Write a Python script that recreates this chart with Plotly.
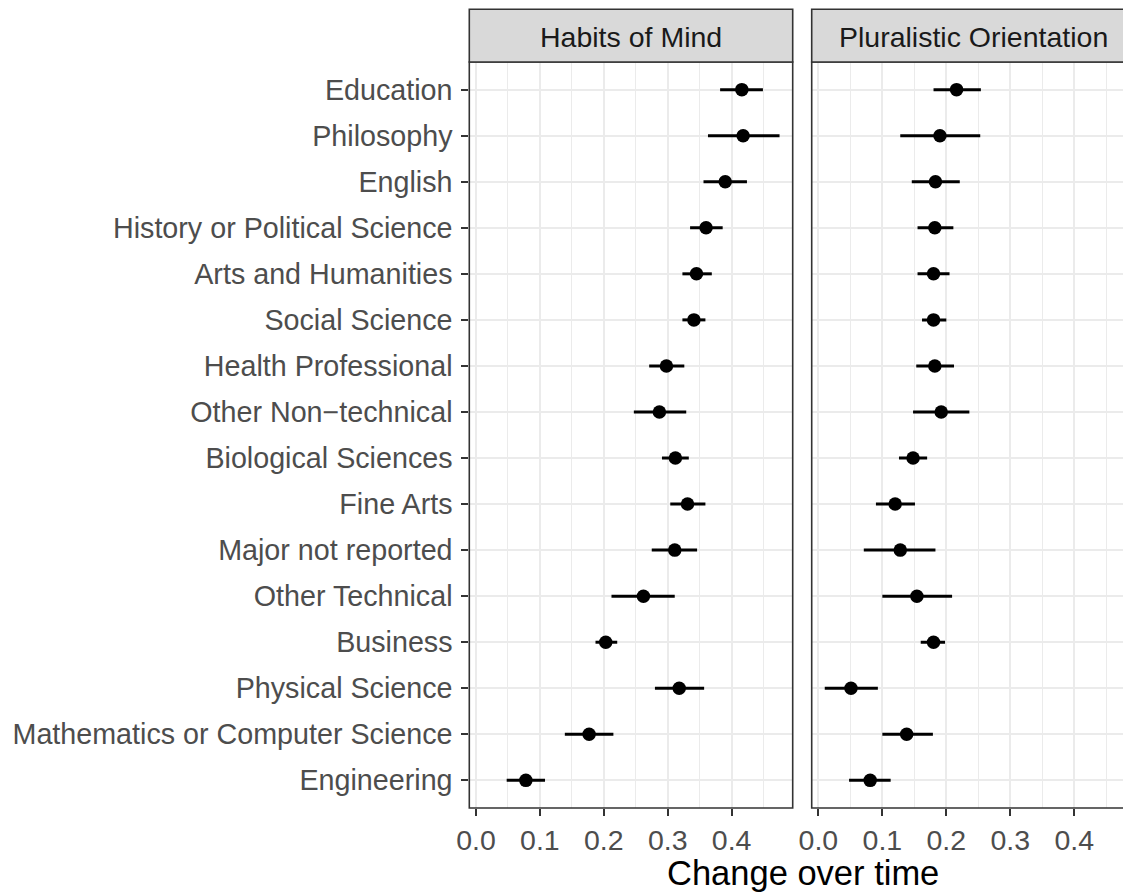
import plotly.graph_objects as go

# Majors, top to bottom
majors = [
    "Education", "Philosophy", "English", "History or Political Science",
    "Arts and Humanities", "Social Science", "Health Professional",
    "Other Non\u2212technical", "Biological Sciences", "Fine Arts",
    "Major not reported", "Other Technical", "Business", "Physical Science",
    "Mathematics or Computer Science", "Engineering",
]

# Habits of Mind: estimate and interval bounds
hom_est = [0.416, 0.418, 0.390, 0.360, 0.345, 0.341, 0.298, 0.287,
           0.312, 0.331, 0.311, 0.262, 0.203, 0.318, 0.177, 0.078]
hom_low = [0.382, 0.363, 0.356, 0.335, 0.323, 0.323, 0.271, 0.247,
           0.291, 0.304, 0.275, 0.212, 0.187, 0.280, 0.139, 0.048]
hom_high = [0.449, 0.475, 0.424, 0.386, 0.369, 0.359, 0.326, 0.329,
            0.333, 0.359, 0.346, 0.311, 0.221, 0.357, 0.215, 0.108]

# Pluralistic Orientation: estimate and interval bounds
po_est = [0.216, 0.190, 0.183, 0.182, 0.180, 0.180, 0.182, 0.192,
          0.148, 0.120, 0.128, 0.154, 0.180, 0.051, 0.138, 0.081]
po_low = [0.180, 0.128, 0.146, 0.155, 0.155, 0.162, 0.153, 0.148,
          0.126, 0.090, 0.071, 0.100, 0.160, 0.010, 0.100, 0.048]
po_high = [0.254, 0.253, 0.221, 0.211, 0.205, 0.200, 0.212, 0.236,
           0.170, 0.151, 0.183, 0.209, 0.198, 0.093, 0.179, 0.113]

panel_titles = ["Habits of Mind", "Pluralistic Orientation"]
x_tickvals = [0.0, 0.1, 0.2, 0.3, 0.4]
x_ticktext = ["0.0", "0.1", "0.2", "0.3", "0.4"]

W, H = 1123, 892
FONT = "Liberation Sans, Arial, Helvetica, sans-serif"


def px_x(p):
    return p / W


def px_y(p):
    return 1 - p / H


# panel geometry (pixels)
L1, R1 = 469.3, 792.7
L2, R2 = 811.7, 1123.0
R2_full = 1136.0
TOP, BOT = 62.0, 808.0
STRIP_TOP = 9.3

fig = go.Figure()


def add_panel(est, low, high, xa, ya):
    fig.add_trace(go.Scatter(
        x=est, y=majors, xaxis=xa, yaxis=ya, mode="markers",
        marker=dict(color="black", size=13.5),
        error_x=dict(type="data", symmetric=False,
                     array=[h - e for h, e in zip(high, est)],
                     arrayminus=[e - l for e, l in zip(est, low)],
                     color="black", thickness=3, width=0),
        showlegend=False, hoverinfo="x+y",
    ))


add_panel(hom_est, hom_low, hom_high, "x", "y")
add_panel(po_est, po_low, po_high, "x2", "y2")

grid = dict(showgrid=True, gridcolor="#EBEBEB", gridwidth=2.3, zeroline=False,
            automargin=False)
xcommon = dict(
    tickvals=x_tickvals, ticktext=x_ticktext, ticks="outside", ticklen=7,
    tickwidth=2, tickcolor="#333333",
    tickfont=dict(family=FONT, size=28.5, color="#4D4D4D"),
    minor=dict(dtick=0.05, tick0=0, showgrid=True, gridcolor="#EBEBEB", gridwidth=1.2),
    showline=False, **grid,
)
ycommon = dict(
    type="category", categoryorder="array", categoryarray=majors,
    range=[15.6, -0.6], domain=[px_y(BOT), px_y(TOP)], **grid,
)

fig.update_layout(
    width=W, height=H, margin=dict(l=0, r=0, t=0, b=0, autoexpand=False),
    paper_bgcolor="white", plot_bgcolor="white",
    xaxis=dict(domain=[px_x(L1), px_x(R1)], range=[-0.0105, 0.4956],
               anchor="y", **xcommon),
    xaxis2=dict(domain=[px_x(L2), 1.0], range=[-0.0104, 0.4761],
                anchor="y2", **xcommon),
    yaxis=dict(anchor="x", ticks="outside", ticklen=7, tickwidth=2,
               tickcolor="#333333", ticklabelstandoff=3,
               tickfont=dict(family=FONT, size=28.7, color="#4D4D4D"),
               **ycommon),
    yaxis2=dict(anchor="x2", showticklabels=False, ticks="", **ycommon),
)

shapes = []
# panel borders (the second panel runs past the right edge of the page)
shapes.append(dict(type="rect", xref="paper", yref="paper",
                   x0=px_x(L1), x1=px_x(R1), y0=px_y(BOT), y1=px_y(TOP),
                   line=dict(color="#333333", width=1.6), layer="above"))
shapes.append(dict(type="path", xref="paper", yref="paper",
                   path=(f"M {px_x(R2) + 0.01} {px_y(TOP)} L {px_x(L2)} {px_y(TOP)} "
                         f"L {px_x(L2)} {px_y(BOT)} L {px_x(R2) + 0.01} {px_y(BOT)}"),
                   line=dict(color="#333333", width=1.6), layer="above"))
# facet strips
for (l, r) in [(L1, R1), (L2, R2_full)]:
    shapes.append(dict(type="rect", xref="paper", yref="paper",
                       x0=px_x(l), x1=px_x(r), y0=px_y(TOP), y1=px_y(STRIP_TOP),
                       fillcolor="#D9D9D9", line=dict(color="#333333", width=1.6),
                       layer="above"))
fig.update_layout(shapes=shapes)

annotations = []
for title, (l, r) in zip(panel_titles, [(L1, R1), (L2, R2_full)]):
    annotations.append(dict(
        text=title, xref="paper", yref="paper",
        x=px_x((l + r) / 2), y=px_y((STRIP_TOP + TOP) / 2 + 1),
        xanchor="center", yanchor="middle", showarrow=False,
        font=dict(family=FONT, size=28.5, color="#1A1A1A"),
    ))
annotations.append(dict(
    text="Change over time", xref="paper", yref="paper",
    x=px_x((L1 + R2_full) / 2), y=px_y(872.5), xanchor="center", yanchor="middle",
    showarrow=False, font=dict(family=FONT, size=34.5, color="black"),
))
fig.update_layout(annotations=annotations)

fig.write_html("out.html")
